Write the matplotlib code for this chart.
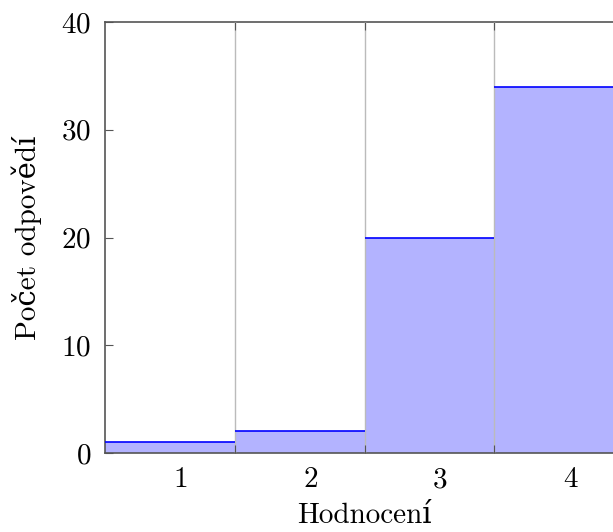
import matplotlib
matplotlib.use('Agg')
import matplotlib.pyplot as plt
import matplotlib.transforms as mtrans

# ratings and number of answers per rating
ratings = [1, 2, 3, 4]
counts = [1, 2, 20, 34]
xlabel = 'Hodnocení'
ylabel = 'Počet odpovědí'

plt.rcParams.update({
    'font.family': ['cmr10', 'DejaVu Serif'],
    'mathtext.fontset': 'cm',
    'axes.formatter.use_mathtext': True,
    'font.size': 21,
})

W, H = 613, 532
fig = plt.figure(figsize=(W / 100, H / 100), dpi=100)
ax = fig.add_axes([105 / W, 1 - 453 / H, (624 - 105) / W, (453 - 22) / H])

edges = [r - 0.5 for r in ratings]
ax.bar(edges, counts, width=1.0, align='edge', color='#b3b3ff', linewidth=0, zorder=1)
ax.hlines(counts, edges, [e + 1 for e in edges], color='blue', linewidth=1.2, zorder=3)

ax.set_xlim(ratings[0] - 0.5, ratings[-1] + 0.5)
ax.set_ylim(0, 40)
ax.set_yticks([0, 10, 20, 30, 40])

# tick marks and grid at interval edges, labels in the middle
edge_ticks = edges[1:]
ax.set_xticks(edge_ticks)
ax.set_xticklabels([])
ax.set_xticks(ratings, minor=True)
ax.set_xticklabels([str(r) for r in ratings], minor=True)
ax.tick_params(axis='x', which='minor', length=0, pad=10)
ax.tick_params(axis='x', which='major', direction='in', top=True, length=6, color='#555555')
ax.tick_params(axis='y', direction='in', length=6, color='#555555', pad=10)
offset = mtrans.ScaledTranslation(11 / 100, 0, fig.dpi_scale_trans)
for lbl in ax.get_xticklabels(minor=True):
    lbl.set_transform(lbl.get_transform() + offset)

ax.grid(True, axis='x', which='major', color='#bbbbbb', linewidth=1, zorder=2)
ax.set_axisbelow(False)
for s in ax.spines.values():
    s.set_color('#555555')
    s.set_linewidth(1.2)

ax.set_xlabel(xlabel, labelpad=7)
ax.set_ylabel(ylabel, labelpad=14)

fig.savefig('out.png', dpi=100)
